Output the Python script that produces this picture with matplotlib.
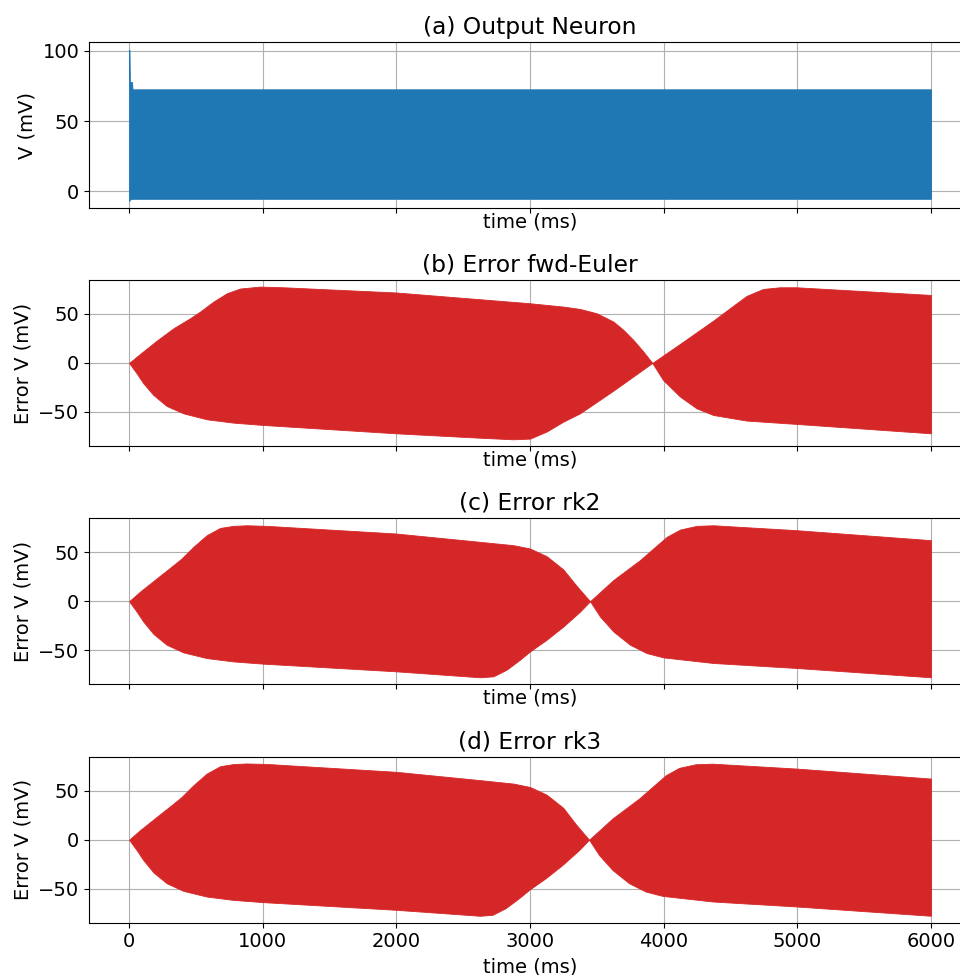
import numpy as np
import matplotlib
matplotlib.use("Agg")
import matplotlib.pyplot as plt

plt.rcParams["font.family"] = ["DejaVu Sans"]
plt.rcParams["font.size"] = 14

# (a) Output neuron membrane potential: envelope of the spike train (ms, mV)
t_out = [0, 3, 6, 22, 26, 6000]
v_out_top = [100.5, 100.5, 77.7, 77.7, 72.5, 72.5]
v_out_bot = [-6.6, -6.6, -5.6, -5.3, -5.2, -5.2]

# (b) Error of forward Euler against the reference solution: envelope (ms, mV)
t_euler_top = [0, 82, 207, 332, 456, 531, 631, 731, 830, 980, 1155, 1997,
               2626, 3000, 3249, 3374, 3499, 3624, 3699, 3773, 3848, 3915,
               4122, 4371, 4495, 4620, 4744, 4869, 4993, 6000]
err_euler_top = [0, 9.2, 22.8, 35.4, 45.6, 52.4, 62.6, 71.1, 75.9, 77.9,
                 77.2, 71.9, 65, 60.9, 57.5, 55.1, 50.7, 42.2, 33.7, 23.5,
                 11.6, 0, 19.4, 43.2, 55.8, 68.4, 75.5, 77.2, 77.2, 69.4]
t_euler_bot = [0, 56, 106, 181, 281, 406, 581, 780, 1005, 1997, 2626, 2875,
               3000, 3124, 3249, 3374, 3624, 3915, 3995, 4122, 4246, 4371,
               4620, 4993, 6000]
err_euler_bot = [0, -10.5, -20.7, -32.6, -43.9, -51.4, -57.5, -60.9, -63.3,
                 -71.8, -76.3, -77.9, -77.2, -70, -59.9, -51.4, -28.2, 0,
                 -17.3, -34.3, -46.3, -53.1, -58.8, -62.2, -71.8]

# (c) Error of RK2: envelope (ms, mV)
t_rk2_top = [0, 82, 207, 332, 394, 481, 581, 681, 780, 880, 1030, 1997,
             2626, 2875, 3000, 3124, 3249, 3349, 3449, 3624, 3823, 3923,
             4023, 4122, 4247, 4371, 4993, 6000]
err_rk2_top = [0, 9.8, 23.4, 36.9, 43.7, 55.5, 67.4, 74.8, 76.9, 77.5, 76.9,
               69.1, 60.6, 57.2, 53.8, 46, 32.5, 15.6, 0, 21.7, 42, 53.9,
               65.7, 73.1, 76.9, 77.5, 72.5, 62.3]
t_rk2_bot = [0, 56, 106, 181, 281, 406, 581, 780, 1005, 1997, 2626, 2726,
             2825, 2925, 3000, 3124, 3249, 3374, 3449, 3524, 3624, 3748,
             3873, 3998, 4371, 4993, 6000]
err_rk2_bot = [0, -10.5, -20.7, -33.2, -44.4, -52.2, -58, -61.4, -63.7,
               -71.5, -77.6, -76.6, -69.8, -59.6, -51.2, -39.3, -25.8, -10.6,
               0, -15.7, -30.9, -44.4, -52.9, -57.3, -63, -68.1, -77.6]

# (d) Error of RK3: envelope (ms, mV)
t_rk3_top = [0, 82, 207, 332, 394, 481, 581, 681, 780, 880, 1030, 1997,
             2626, 2875, 3000, 3124, 3249, 3344, 3442, 3617, 3816, 3916,
             4016, 4115, 4240, 4364, 4993, 6000]
err_rk3_top = [0, 9.8, 23.4, 36.9, 43.8, 55.6, 67.5, 75.0, 77.2, 77.8, 77.3,
               69.3, 60.8, 57.3, 53.8, 46, 32.5, 15.6, 0, 21.7, 42, 53.9,
               65.8, 73.3, 77.0, 77.6, 72.6, 62.4]
t_rk3_bot = [0, 56, 106, 181, 281, 406, 581, 780, 1005, 1997, 2626, 2720,
             2818, 2918, 2993, 3117, 3242, 3367, 3442, 3517, 3617, 3741,
             3866, 3991, 4364, 4993, 6000]
err_rk3_bot = [0, -10.5, -20.7, -33.2, -44.4, -52.2, -58, -61.4, -63.7,
               -71.5, -77.6, -76.6, -69.8, -59.6, -51.2, -39.3, -25.8, -10.6,
               0, -15.7, -30.9, -44.4, -52.9, -57.3, -63, -68.1, -77.6]

titles = ["(a) Output Neuron", "(b) Error fwd-Euler", "(c) Error rk2",
          "(d) Error rk3"]
ylabels = ["V (mV)", "Error V (mV)", "Error V (mV)", "Error V (mV)"]
xticks = [0, 1000, 2000, 3000, 4000, 5000, 6000]

fig = plt.figure(figsize=(9.6, 9.75), dpi=100)
left, width, height = 0.0927, 0.9188, 0.1703
bottoms = [0.7864, 0.5426, 0.2982, 0.0536]
axes = []
for b in bottoms:
    ax = fig.add_axes([left, b, width, height],
                      sharex=axes[0] if axes else None)
    axes.append(ax)


def envelope(ax, t_top, top, t_bot, bot, color):
    """Fill the band between the lower and upper envelope of a trace."""
    tt = np.union1d(t_top, t_bot)
    hi = np.interp(tt, t_top, top)
    lo = np.interp(tt, t_bot, bot)
    ax.fill_between(tt, lo, hi, color=color, linewidth=0.6, edgecolor=color)


envelope(axes[0], t_out, v_out_top, t_out, v_out_bot, "#1f77b4")
envelope(axes[1], t_euler_top, err_euler_top, t_euler_bot, err_euler_bot,
         "#d62728")
envelope(axes[2], t_rk2_top, err_rk2_top, t_rk2_bot, err_rk2_bot, "#d62728")
envelope(axes[3], t_rk3_top, err_rk3_top, t_rk3_bot, err_rk3_bot, "#d62728")

for i, (ax, title, yl) in enumerate(zip(axes, titles, ylabels)):
    ax.set_title(title, fontsize=16.8)
    ax.set_ylabel(yl)
    ax.set_xlabel("time (ms)", labelpad=4 if i == 3 else -0.5)
    ax.grid(True)
    ax.set_axisbelow(True)

axes[0].set_xlim(-300, 6300)
axes[0].set_xticks(xticks)
axes[0].set_ylim(-11.9, 105.9)
axes[0].set_yticks([0, 50, 100])
for ax in axes[1:]:
    ax.set_ylim(-84.7, 84.7)
    ax.set_yticks([-50, 0, 50])
for ax in axes[:-1]:
    ax.tick_params(labelbottom=False)

fig.savefig("out.png", dpi=100)
